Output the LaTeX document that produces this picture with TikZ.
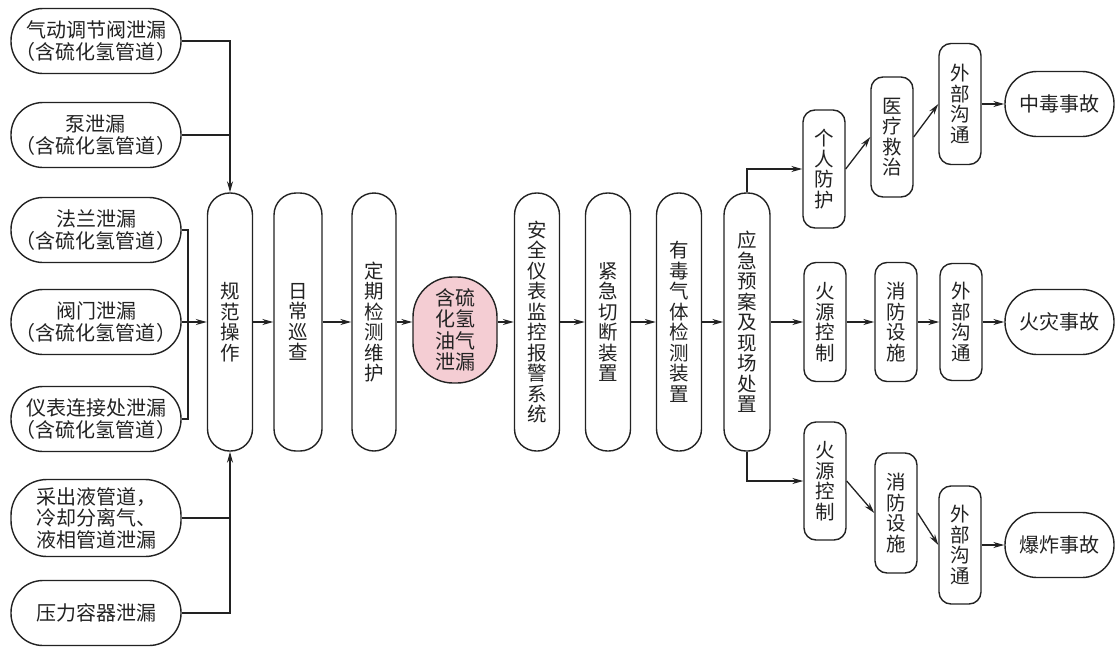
\documentclass[tikz,border=0pt]{standalone}
\usepackage{fontspec}
\setmainfont{Noto Sans CJK SC}
\usetikzlibrary{arrows.meta}
\definecolor{lc}{HTML}{222222}
\definecolor{pinkfill}{HTML}{F4CDD3}
\begin{document}
\begin{tikzpicture}[x=1pt,y=-1pt,
  txt/.style={font=\fontsize{20}{21.5}\selectfont, align=center, inner sep=0pt, text=lc},
  vtxt/.style={font=\fontsize{19.5}{20.5}\selectfont, align=center, inner sep=0pt, text=lc},
  srcbox/.style={txt, draw=lc, line width=1.4pt, rounded corners=32pt, minimum width=170pt, minimum height=65pt},
  tallbox/.style={vtxt, draw=lc, line width=1.4pt, rounded corners=22pt, minimum width=45pt, minimum height=258pt},
  smallbox/.style={vtxt, draw=lc, line width=1.4pt, rounded corners=12pt, minimum width=42pt, minimum height=119pt},
  accbox/.style={txt, draw=lc, line width=1.4pt, rounded corners=32pt, minimum width=109pt, minimum height=65pt},
  leakbox/.style={vtxt, font=\fontsize{20}{21.5}\selectfont, draw=lc, fill=pinkfill, line width=1.4pt, rounded corners=40pt, minimum width=84pt, minimum height=106pt},
  conn/.style={draw=lc, line width=1.3pt},
  arr/.style={conn, -{Stealth[length=11pt,width=6pt]}}
]
\useasboundingbox (0,0) rectangle (1116,648);

% left sources
\node[srcbox] (s1) at (96,41) {气动调节阀泄漏\\（含硫化氢管道）};
\node[srcbox] (s2) at (96,135) {泵泄漏\\（含硫化氢管道）};
\node[srcbox] (s3) at (96,230) {法兰泄漏\\（含硫化氢管道）};
\node[srcbox] (s4) at (96,322) {阀门泄漏\\（含硫化氢管道）};
\node[srcbox] (s5) at (96,419) {仪表连接处泄漏\\（含硫化氢管道）};
\node[srcbox, minimum height=77pt, rounded corners=36pt] (s6) at (96,518) {采出液管道，\\冷却分离气、\\液相管道泄漏};
\node[srcbox] (s7) at (96,613) {压力容器泄漏};

% main chain
\node[tallbox] (t1) at (230,322) {规\\范\\操\\作};
\node[tallbox, minimum width=48pt] (t2) at (298,322) {日\\常\\巡\\查};
\node[tallbox, minimum width=44pt] (t3) at (374,322) {定\\期\\检\\测\\维\\护};
\node[leakbox] (leak) at (455,330) {含硫\\化氢\\油气\\泄漏};
\node[tallbox] (t4) at (537,322) {安\\全\\仪\\表\\监\\控\\报\\警\\系\\统};
\node[tallbox] (t5) at (608,322) {紧\\急\\切\\断\\装\\置};
\node[tallbox] (t6) at (679,322) {有\\毒\\气\\体\\检\\测\\装\\置};
\node[tallbox, minimum width=46pt] (t7) at (747,322) {应\\急\\预\\案\\及\\现\\场\\处\\置};

% top branch
\node[smallbox, minimum height=118pt] (p1) at (824,169) {个\\人\\防\\护};
\node[smallbox, minimum height=120pt] (p2) at (892,137) {医\\疗\\救\\治};
\node[smallbox, minimum height=121pt] (p3) at (960,104) {外\\部\\沟\\通};
\node[accbox] (a1) at (1059.5,104) {中毒事故};

% middle branch
\node[smallbox] (f1) at (825,322) {火\\源\\控\\制};
\node[smallbox] (f2) at (896,322) {消\\防\\设\\施};
\node[smallbox, minimum height=117pt] (f3) at (961,322) {外\\部\\沟\\通};
\node[accbox] (a2) at (1059.5,322) {火灾事故};

% bottom branch
\node[smallbox, minimum height=118pt] (b1) at (825,481) {火\\源\\控\\制};
\node[smallbox, minimum height=120pt] (b2) at (896,513) {消\\防\\设\\施};
\node[smallbox, minimum height=118pt] (b3) at (960,545) {外\\部\\沟\\通};
\node[accbox] (a3) at (1059.5,545) {爆炸事故};

% left connectors
\coordinate (j1) at (230,135);
\draw[conn] (s1.east) -| (j1);
\draw[conn] (s2.east) -- (j1);
\draw[arr] (j1) -- (t1.north);
\coordinate (j2top) at (188,230);
\coordinate (j2bot) at (188,419);
\draw[conn] (s3.east) -- (j2top) -- (j2bot) -- (s5.east);
\draw[arr] (s4.east) -- (t1.west);
\coordinate (j3) at (230,518);
\draw[conn] (s7.east) -| (j3);
\draw[conn] (s6.east) -- (j3);
\draw[arr] (j3) -- (t1.south);

% chain arrows
\draw[arr] (t1.east) -- (t2.west);
\draw[arr] (t2.east) -- (t3.west);
\draw[arr] (t3.east) -- (t3.east -| leak.west);
\draw[arr] (leak.east |- t4.west) -- (t4.west);
\draw[arr] (t4.east) -- (t5.west);
\draw[arr] (t5.east) -- (t6.west);
\draw[arr] (t6.east) -- (t7.west);

% branches
\draw[arr] (t7.north) |- (p1.west);
\draw[arr] (p1.east) -- (p2.west);
\draw[arr] (p2.east) -- (p3.west);
\draw[arr] (p3.east) -- (a1.west);

\draw[arr] (t7.east) -- (f1.west);
\draw[arr] (f1.east) -- (f2.west);
\draw[arr] (f2.east) -- (f3.west);
\draw[arr] (f3.east) -- (a2.west);

\draw[arr] (t7.south) |- (b1.west);
\draw[arr] (b1.east) -- (b2.west);
\draw[arr] (b2.east) -- (b3.west);
\draw[arr] (b3.east) -- (a3.west);
\end{tikzpicture}
\end{document}
